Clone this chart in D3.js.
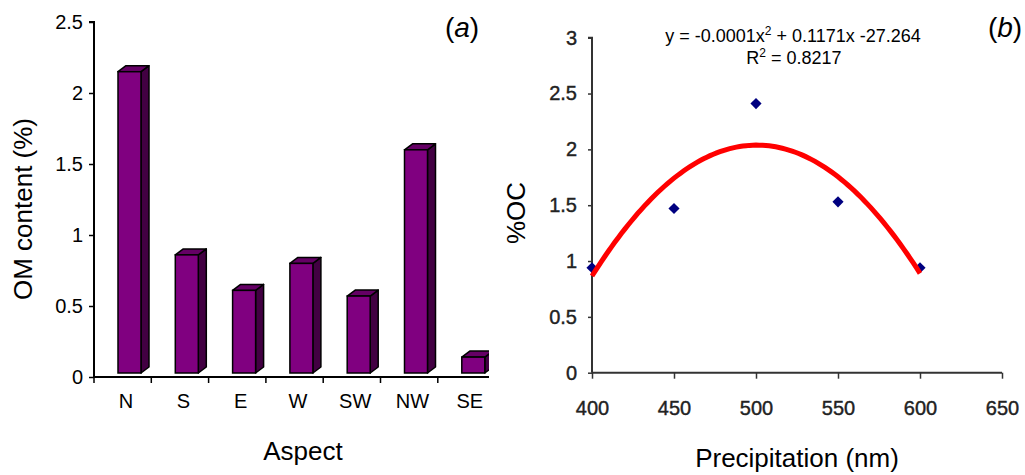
<!DOCTYPE html>
<html>
<head>
<meta charset="utf-8">
<script src="https://cdn.jsdelivr.net/npm/d3@7"></script>
<style>
  body { margin: 0; background: #fff; }
  svg { display: block; font-family: "Liberation Sans", Arial, sans-serif; }
</style>
</head>
<body>
<svg width="1025" height="475"></svg>
<script>
// panel (a) data
const aspects = ["N", "S", "E", "W", "SW", "NW", "SE"];
const omContent = [2.15, 0.86, 0.61, 0.80, 0.57, 1.60, 0.14];
const omTicks = [0, 0.5, 1, 1.5, 2, 2.5];

// panel (b) data
const precip = [400, 450, 500, 550, 600];
const ocPercent = [0.94, 1.47, 2.41, 1.53, 0.94];
const ocTicks = [0, 0.5, 1, 1.5, 2, 2.5, 3];
const precipTicks = [400, 450, 500, 550, 600, 650];

const svg = d3.select("svg");
svg.append("rect").attr("width", 1025).attr("height", 475).attr("fill", "#fff");

// ---------- (a) 3D bar chart ----------
const bandW = 57.3;
const xA = d3.scaleBand().domain(aspects).range([94, 94 + bandW * aspects.length]);
const yA = d3.scaleLinear().domain([0, 2.5]).range([377, 22]);
const axisEndA = 489;

const gA = svg.append("g");

svg.append("clipPath").attr("id", "clipA")
  .append("rect").attr("x", 0).attr("y", 0).attr("width", axisEndA).attr("height", 475);

// bars: front face + side + top, Excel style
const dx = 8, dy = 6, barW = 23, barOff = 24, barBase = 373;
const bars = gA.append("g").attr("clip-path", "url(#clipA)")
  .selectAll("g.bar")
  .data(aspects.map((a, i) => ({ a, v: omContent[i] })))
  .join("g").attr("class", "bar");

bars.append("path")
  .attr("fill", "#420042").attr("stroke", "#000").attr("stroke-width", 1.5).attr("stroke-linejoin", "round")
  .attr("d", d => {
    const x = xA(d.a) + barOff + barW, t = yA(d.v);
    return `M${x},${t} L${x + dx},${t - dy} L${x + dx},${barBase - dy} L${x},${barBase} Z`;
  });
bars.append("path")
  .attr("fill", "#650065").attr("stroke", "#000").attr("stroke-width", 1.5).attr("stroke-linejoin", "round")
  .attr("d", d => {
    const x = xA(d.a) + barOff, t = yA(d.v);
    return `M${x},${t} L${x + dx},${t - dy} L${x + barW + dx},${t - dy} L${x + barW},${t} Z`;
  });
bars.append("rect")
  .attr("fill", "#800080").attr("stroke", "#000").attr("stroke-width", 1.5)
  .attr("x", d => xA(d.a) + barOff)
  .attr("y", d => yA(d.v))
  .attr("width", barW)
  .attr("height", d => barBase - yA(d.v));

// y axis
const axA = gA.append("g").attr("transform", "translate(94,0)")
  .call(d3.axisLeft(yA).tickValues(omTicks).tickSize(5).tickPadding(6).tickFormat(d3.format("~g")));
axA.select(".domain").attr("d", `M-5,${yA(2.5)}H0V${yA(0)}`).attr("stroke", "#000").attr("stroke-width", 2);
axA.selectAll(".tick line").attr("stroke", "#000").attr("stroke-width", 1.5);
axA.selectAll(".tick text").attr("font-size", 20).attr("fill", "#000").attr("font-family", "Liberation Sans, Arial");

// x axis
gA.append("line").attr("x1", 93).attr("x2", axisEndA).attr("y1", 377).attr("y2", 377)
  .attr("stroke", "#000").attr("stroke-width", 2);
gA.selectAll("line.xt").data(aspects).join("line").attr("class", "xt")
  .attr("x1", d => xA(d)).attr("x2", d => xA(d)).attr("y1", 377).attr("y2", 383)
  .attr("stroke", "#000").attr("stroke-width", 1.5);
gA.selectAll("text.xl").data(aspects).join("text").attr("class", "xl")
  .attr("x", d => xA(d) + 32).attr("y", 408)
  .attr("text-anchor", "middle").attr("font-size", 20).text(d => d);

gA.append("text").attr("transform", "translate(32,209) rotate(-90)")
  .attr("text-anchor", "middle").attr("font-size", 26).text("OM content (%)");
gA.append("text").attr("x", 303).attr("y", 460)
  .attr("text-anchor", "middle").attr("font-size", 26).text("Aspect");
const la = gA.append("text").attr("x", 462).attr("y", 37).attr("text-anchor", "middle").attr("font-size", 28);
la.append("tspan").text("(");
la.append("tspan").attr("font-style", "italic").text("a");
la.append("tspan").text(")");

// ---------- (b) scatter with quadratic trend ----------
const xB = d3.scaleLinear().domain([400, 650]).range([592, 1002]);
const yB = d3.scaleLinear().domain([0, 3]).range([372.7, 37.7]);
const gB = svg.append("g");

const axBy = gB.append("g").attr("transform", "translate(592,0)")
  .call(d3.axisLeft(yB).tickValues(ocTicks).tickSize(4).tickPadding(11).tickFormat(d3.format("~g")));
axBy.select(".domain").attr("d", `M-4,${yB(3)}H0V${yB(0)}`).attr("stroke", "#333").attr("stroke-width", 2);
axBy.selectAll(".tick line").attr("stroke", "#333").attr("stroke-width", 1.5);
axBy.selectAll(".tick text").attr("font-size", 20).attr("fill", "#222")
  .attr("stroke", "#222").attr("stroke-width", 0.4);

const axBx = gB.append("g").attr("transform", "translate(0,372.7)")
  .call(d3.axisBottom(xB).tickValues(precipTicks).tickSize(6).tickPadding(22));
axBx.select(".domain").attr("d", `M592,0H1002`).attr("stroke", "#333").attr("stroke-width", 2);
axBx.selectAll(".tick line").attr("stroke", "#333").attr("stroke-width", 1.5);
axBx.selectAll(".tick text").attr("font-size", 20).attr("fill", "#222")
  .attr("stroke", "#222").attr("stroke-width", 0.4);

// least squares quadratic fit of the points (Excel trendline)
function quadFit(xs, ys) {
  const m = d3.mean(xs);
  let S = [0, 0, 0, 0, 0], T = [0, 0, 0];
  xs.forEach((x, i) => {
    const u = x - m;
    for (let k = 0; k < 5; k++) S[k] += Math.pow(u, k);
    for (let k = 0; k < 3; k++) T[k] += ys[i] * Math.pow(u, k);
  });
  const A = [[S[0], S[1], S[2], T[0]], [S[1], S[2], S[3], T[1]], [S[2], S[3], S[4], T[2]]];
  for (let i = 0; i < 3; i++) {
    for (let j = i + 1; j < 3; j++) {
      const f = A[j][i] / A[i][i];
      for (let k = i; k < 4; k++) A[j][k] -= f * A[i][k];
    }
  }
  const c = [0, 0, 0];
  for (let i = 2; i >= 0; i--) {
    let s = A[i][3];
    for (let k = i + 1; k < 3; k++) s -= A[i][k] * c[k];
    c[i] = s / A[i][i];
  }
  return x => c[0] + c[1] * (x - m) + c[2] * (x - m) * (x - m);
}
const fit = quadFit(precip, ocPercent);
const curveX = d3.range(400, 600.1, 2);

gB.selectAll("path.pt").data(precip).join("path").attr("class", "pt")
  .attr("d", d3.symbol(d3.symbolSquare, 62))
  .attr("transform", (d, i) => `translate(${xB(d)},${yB(ocPercent[i])}) rotate(45)`)
  .attr("fill", "#000080");

gB.append("path").datum(curveX)
  .attr("fill", "none").attr("stroke", "#ff0000").attr("stroke-width", 5)
  .attr("d", d3.line().x(d => xB(d)).y(d => yB(fit(d))));

const eq = gB.append("text").attr("x", 793).attr("y", 42).attr("text-anchor", "middle").attr("font-size", 18);
eq.append("tspan").text("y = -0.0001x");
eq.append("tspan").attr("font-size", 12).attr("dy", -7).text("2");
eq.append("tspan").attr("dy", 7).text(" + 0.1171x  -27.264");
const r2 = gB.append("text").attr("x", 794).attr("y", 64).attr("text-anchor", "middle").attr("font-size", 18);
r2.append("tspan").text("R");
r2.append("tspan").attr("font-size", 12).attr("dy", -7).text("2");
r2.append("tspan").attr("dy", 7).text(" = 0.8217");

gB.append("text").attr("transform", "translate(525,213) rotate(-90)")
  .attr("text-anchor", "middle").attr("font-size", 26).text("%OC");
gB.append("text").attr("x", 797).attr("y", 467)
  .attr("text-anchor", "middle").attr("font-size", 26).text("Precipitation (nm)");
const lb = gB.append("text").attr("x", 1005).attr("y", 37).attr("text-anchor", "middle").attr("font-size", 28);
lb.append("tspan").text("(");
lb.append("tspan").attr("font-style", "italic").text("b");
lb.append("tspan").text(")");
</script>
</body>
</html>
